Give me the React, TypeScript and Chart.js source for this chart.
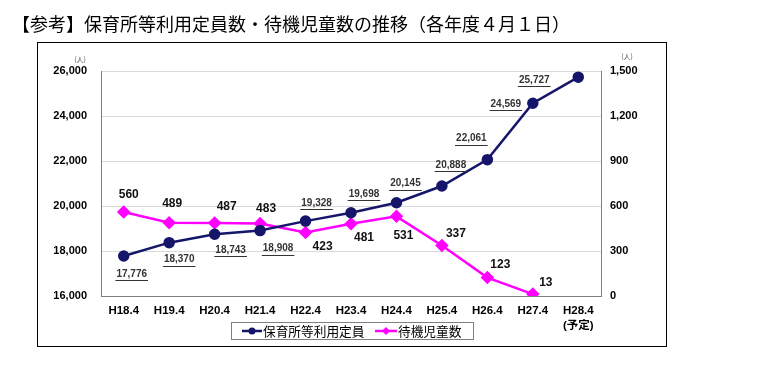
import React, { useEffect, useRef } from "react";
import { Chart, registerables } from "chart.js";
Chart.register(...registerables);

const TITLE = "【参考】保育所等利用定員数・待機児童数の推移（各年度４月１日）";
const categories = ["H18.4", "H19.4", "H20.4", "H21.4", "H22.4", "H23.4", "H24.4", "H25.4", "H26.4", "H27.4", "H28.4"];
const categoryNotes = ["", "", "", "", "", "", "", "", "", "", "(予定)"];
const capacityName = "保育所等利用定員";
const waitingName = "待機児童数";
const capacity = [17776, 18370, 18743, 18908, 19328, 19698, 20145, 20888, 22061, 24569, 25727];
const waiting = [560, 489, 487, 483, 423, 481, 531, 337, 123, 13, null];
const leftTicks = [16000, 18000, 20000, 22000, 24000, 26000];
const rightTicks = [0, 300, 600, 900, 1200, 1500];
const unitLabel = "(人)";

// label placement offsets (style, px)
const capLabelOffsets = [[8, 18], [10, 17], [16, 16], [18, 18], [11, -18], [13, -19], [9, -19], [9, -21], [-16, -21], [-27, 1], [-44, 3]];
const waitLabelOffsets = [[5, -17], [3, -19], [12, -16], [6, -15], [17, 14], [13, 14], [7, 19], [14, -12], [13, -13], [13, -11], [0, 0]];

const NAVY = "#15156a";
const MAGENTA = "#ff00ff";
const fmt = (v: number) => v.toLocaleString("en-US");

const decor = {
  id: "decor",
  afterDatasetsDraw(chart: any) {
    const ctx = chart.ctx;
    ctx.save();
    ctx.textAlign = "center";
    ctx.textBaseline = "middle";
    const m0 = chart.getDatasetMeta(0);
    m0.data.forEach((pt: any, i: number) => {
      const v = capacity[i];
      if (v == null) return;
      const [dx, dy] = capLabelOffsets[i];
      const x = pt.x + dx, y = pt.y + dy;
      ctx.font = 'bold 10px "Liberation Sans", Arial, sans-serif';
      ctx.fillStyle = "#333";
      const t = fmt(v);
      ctx.fillText(t, x, y);
      const w = ctx.measureText(t).width;
      ctx.strokeStyle = "#333";
      ctx.lineWidth = 1;
      ctx.beginPath();
      ctx.moveTo(x - w / 2 - 1, Math.round(y + 6) + 0.5);
      ctx.lineTo(x + w / 2 + 1, Math.round(y + 6) + 0.5);
      ctx.stroke();
    });
    const m1 = chart.getDatasetMeta(1);
    m1.data.forEach((pt: any, i: number) => {
      const v = waiting[i];
      if (v == null) return;
      const [dx, dy] = waitLabelOffsets[i];
      ctx.font = 'bold 12px "Liberation Sans", Arial, sans-serif';
      ctx.fillStyle = "#111";
      ctx.fillText(fmt(v), pt.x + dx, pt.y + dy);
    });
    ctx.restore();
  },
  afterDraw(chart: any) {
    const ctx = chart.ctx;
    ctx.save();
    // title
    ctx.font = '18px "Noto Sans CJK JP", sans-serif';
    ctx.fillStyle = "#000";
    ctx.textAlign = "left";
    ctx.textBaseline = "middle";
    ctx.fillText(TITLE, 12, 24);
    // outer frame
    ctx.strokeStyle = "#000";
    ctx.lineWidth = 1;
    ctx.strokeRect(37.5, 42.5, 629, 304);
    // units
    ctx.font = '7px "Noto Sans CJK JP", sans-serif';
    ctx.fillStyle = "#555";
    ctx.textAlign = "center";
    ctx.fillText(unitLabel, 80, 59);
    ctx.fillText(unitLabel, 627, 56);
    // legend
    ctx.strokeStyle = "#808080";
    ctx.strokeRect(231.5, 322.5, 242, 17);
    const ly = 331;
    ctx.lineWidth = 2.5;
    ctx.strokeStyle = NAVY;
    ctx.beginPath();
    ctx.moveTo(242, ly);
    ctx.lineTo(262, ly);
    ctx.stroke();
    ctx.fillStyle = NAVY;
    ctx.beginPath();
    ctx.arc(252, ly, 3.5, 0, Math.PI * 2);
    ctx.fill();
    ctx.strokeStyle = MAGENTA;
    ctx.beginPath();
    ctx.moveTo(375, ly);
    ctx.lineTo(397, ly);
    ctx.stroke();
    ctx.fillStyle = MAGENTA;
    ctx.beginPath();
    ctx.moveTo(386, ly - 4);
    ctx.lineTo(390, ly);
    ctx.lineTo(386, ly + 4);
    ctx.lineTo(382, ly);
    ctx.closePath();
    ctx.fill();
    ctx.font = '12.7px "Noto Sans CJK JP", sans-serif';
    ctx.fillStyle = "#000";
    ctx.textAlign = "left";
    ctx.fillText(capacityName, 263, ly + 0.5);
    ctx.fillText(waitingName, 398, ly + 0.5);
    ctx.restore();
  },
};

export default function App() {
  const ref = useRef<HTMLCanvasElement>(null);
  useEffect(() => {
    if (!ref.current) return;
    const labels = categories.map((c, i) => (categoryNotes[i] ? [c, categoryNotes[i]] : c));
    const chart = new Chart(ref.current, {
      type: "line",
      data: {
        labels,
        datasets: [
          {
            label: capacityName,
            data: capacity,
            yAxisID: "y",
            borderColor: NAVY,
            backgroundColor: NAVY,
            borderWidth: 2.5,
            pointRadius: 4.5,
            pointStyle: "circle",
            pointBackgroundColor: NAVY,
            pointBorderColor: NAVY,
            tension: 0,
          },
          {
            label: waitingName,
            data: waiting,
            yAxisID: "y1",
            borderColor: MAGENTA,
            backgroundColor: MAGENTA,
            borderWidth: 2.5,
            pointRadius: 5,
            pointStyle: "rectRot",
            pointBackgroundColor: MAGENTA,
            pointBorderColor: MAGENTA,
            tension: 0,
          },
        ],
      },
      options: {
        responsive: false,
        animation: false,
        layout: { padding: { top: 71, left: 0, right: 0, bottom: 0 } },
        plugins: { legend: { display: false }, title: { display: false }, tooltip: { enabled: false } },
        scales: {
          x: {
            type: "category",
            offset: true,
            grid: { display: false, drawTicks: false },
            border: { display: true, color: "#808080", width: 1 },
            ticks: {
              autoSkip: false,
              maxRotation: 0,
              padding: 7,
              color: "#000",
              font: { family: '"Liberation Sans", Arial, "Noto Sans CJK JP", sans-serif', size: 11.5, weight: "bold", lineHeight: 1.3 },
            },
            afterFit: (s: any) => { s.height = 75; },
          },
          y: {
            position: "left",
            min: leftTicks[0],
            max: leftTicks[leftTicks.length - 1],
            grid: { color: "#d9d9d9", drawTicks: false },
            border: { display: true, color: "#808080", width: 1 },
            ticks: {
              stepSize: leftTicks[1] - leftTicks[0],
              padding: 14,
              color: "#000",
              callback: (v: any) => fmt(Number(v)),
              font: { family: '"Liberation Sans", Arial, sans-serif', size: 11, weight: "bold" },
            },
            afterFit: (s: any) => { s.width = 101; },
          },
          y1: {
            position: "right",
            min: rightTicks[0],
            max: rightTicks[rightTicks.length - 1],
            grid: { drawOnChartArea: false, drawTicks: false },
            border: { display: true, color: "#808080", width: 1 },
            ticks: {
              stepSize: rightTicks[1] - rightTicks[0],
              padding: 9,
              color: "#000",
              callback: (v: any) => fmt(Number(v)),
              font: { family: '"Liberation Sans", Arial, sans-serif', size: 11, weight: "bold" },
            },
            afterFit: (s: any) => { s.width = 159; },
          },
        },
      } as any,
      plugins: [decor],
    });
    return () => chart.destroy();
  }, []);
  return (
    <canvas
      ref={ref}
      width={760}
      height={371}
      style={{ position: "absolute", left: 0, top: 0, width: 760, height: 371, display: "block" }}
    />
  );
}
